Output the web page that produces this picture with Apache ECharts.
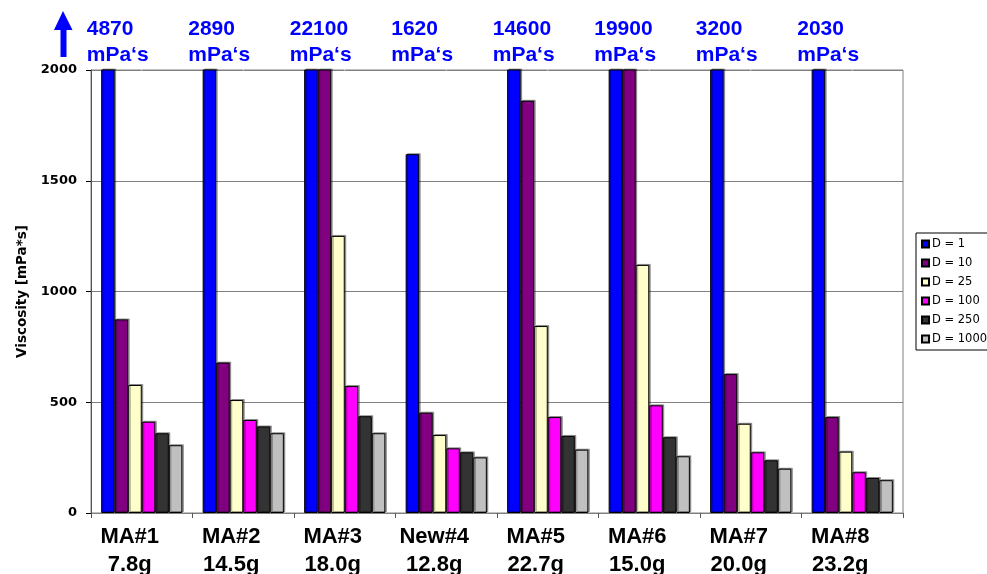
<!DOCTYPE html>
<html><head><meta charset="utf-8">
<script src="https://cdn.jsdelivr.net/npm/echarts@6/dist/echarts.min.js"></script>
<style>html,body{margin:0;padding:0;background:#fff}#c{width:987px;height:574px}</style>
</head><body><div id="c"></div>
<script>
const categories = ['MA#1', 'MA#2', 'MA#3', 'New#4', 'MA#5', 'MA#6', 'MA#7', 'MA#8'];
const weights = ['7.8g', '14.5g', '18.0g', '12.8g', '22.7g', '15.0g', '20.0g', '23.2g'];
const seriesNames = ['D = 1', 'D = 10', 'D = 25', 'D = 100', 'D = 250', 'D = 1000'];
const d1 = [4870, 2890, 22100, 1620, 14600, 19900, 3200, 2030];
const d10 = [874, 679, 2500, 453, 1861, 2500, 627, 433];
const d25 = [578, 510, 1251, 352, 844, 1120, 403, 277];
const d100 = [412, 420, 573, 292, 433, 486, 274, 184];
const d250 = [360, 391, 437, 274, 348, 342, 238, 158];
const d1000 = [306, 360, 360, 251, 286, 256, 200, 148];
const yTicks = [0, 500, 1000, 1500, 2000];
const annotationUnit = 'mPa\u2018s';

const seriesValues = [d1, d10, d25, d100, d250, d1000];
const colors = ['#0000FF', '#800080', '#FFFFCC', '#FF00FF', '#333333', '#C0C0C0'];
const yMax = yTicks[yTicks.length - 1];

const chart = echarts.init(document.getElementById('c'), null, { renderer: 'canvas' });

const barSeries = seriesNames.map((name, k) => ({
  name: name,
  type: 'bar',
  data: seriesValues[k],
  barGap: '0%',
  barCategoryGap: '20%',
  clip: true,
  itemStyle: {
    color: colors[k],
    borderColor: '#000',
    borderWidth: 1,
    shadowColor: 'rgba(0,0,0,0.35)',
    shadowOffsetX: 1.5,
    shadowOffsetY: -1,
    shadowBlur: 0
  }
}));

const annotationSeries = {
  type: 'scatter',
  data: d1.map(() => yMax),
  symbol: 'rect',
  symbolSize: 1,
  clip: false,
  silent: true,
  itemStyle: { color: '#ffffff', opacity: 1 },
  label: {
    show: true,
    position: 'top',
    distance: 1,
    align: 'left',
    offset: [-55, 0],
    formatter: p => d1[p.dataIndex] + '\n' + annotationUnit,
    fontFamily: 'Liberation Sans, Arial, sans-serif',
    fontWeight: 'bold',
    fontSize: 21,
    lineHeight: 26,
    color: '#0000FF',
    opacity: 1
  }
};

chart.setOption({
  animation: false,
  backgroundColor: '#fff',
  grid: {
    left: 91, right: 84, top: 70, bottom: 61,
    containLabel: false, outerBoundsMode: 'none',
    show: true, borderColor: '#808080', borderWidth: 1
  },
  legend: {
    data: seriesNames,
    orient: 'vertical',
    left: 916,
    top: 233,
    padding: [5, 5, 5, 5],
    itemWidth: 7,
    itemHeight: 7,
    itemGap: 7,
    icon: 'rect',
    borderColor: '#000',
    borderWidth: 1,
    textStyle: { fontFamily: 'DejaVu Sans', fontSize: 11.5, color: '#000', padding: [0, 0, 0, -2] }
  },
  xAxis: {
    type: 'category',
    data: categories,
    boundaryGap: true,
    axisLine: { lineStyle: { color: '#808080', width: 1 } },
    axisTick: { show: true, length: 5, lineStyle: { color: '#555' } },
    axisLabel: {
      interval: 0,
      margin: 10,
      padding: [0, 24, 0, 0],
      formatter: (v, i) => v + '\n' + weights[i],
      fontFamily: 'Liberation Sans, Arial, sans-serif',
      fontWeight: 'bold',
      fontSize: 22,
      lineHeight: 28,
      color: '#000'
    }
  },
  yAxis: {
    type: 'value',
    min: yTicks[0],
    max: yMax,
    interval: yTicks[1] - yTicks[0],
    name: 'Viscosity [mPa*s]',
    nameLocation: 'middle',
    nameGap: 62,
    nameTextStyle: { fontFamily: 'DejaVu Sans', fontWeight: 'bold', fontSize: 13.5, color: '#000' },
    axisLine: { show: true, lineStyle: { color: '#555', width: 1 } },
    axisTick: { show: true, length: 5, lineStyle: { color: '#000' } },
    axisLabel: { margin: 14, formatter: v => String(v), fontFamily: 'DejaVu Sans', fontWeight: 'bold', fontSize: 13, color: '#000' },
    splitLine: { show: true, lineStyle: { color: '#808080', width: 1 } }
  },
  graphic: [{
    type: 'polygon',
    shape: { points: [[63, 11], [72.5, 30], [66.5, 30], [66.5, 57], [60.5, 57], [60.5, 30], [54, 30]] },
    style: { fill: '#0000FF' }
  }],
  series: barSeries.concat([annotationSeries])
});
</script>
</body></html>
